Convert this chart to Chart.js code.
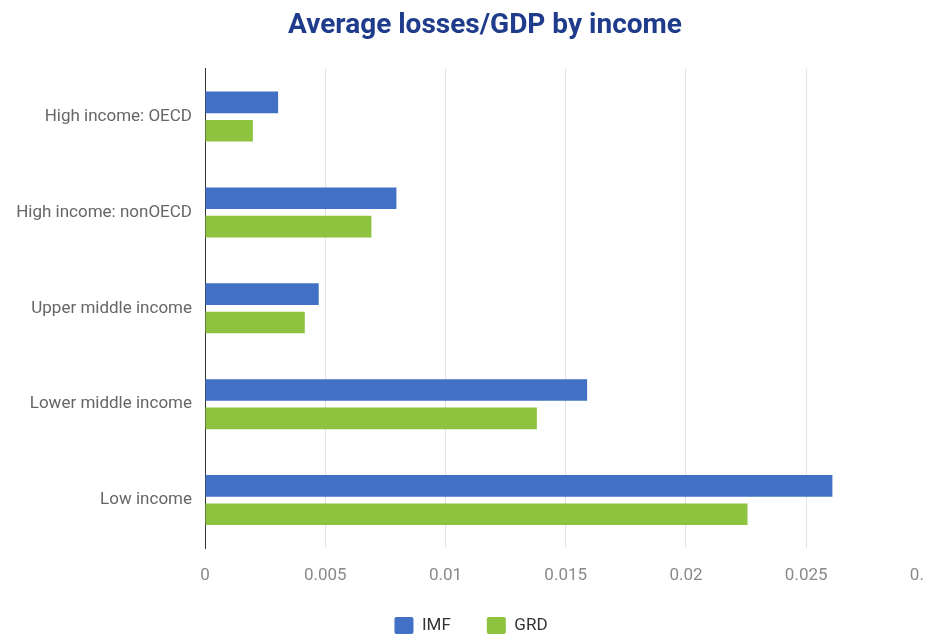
<!DOCTYPE html>
<html>
<head>
<meta charset="utf-8">
<script src="https://cdn.jsdelivr.net/npm/chart.js@4"></script>
<style>
  html, body { margin: 0; padding: 0; background: #fff; }
  #wrap { width: 925px; height: 637px; overflow: hidden; position: relative; }
  #box { width: 961px; height: 644px; position: absolute; left: 0; top: 0; }
</style>
</head>
<body>
<div id="wrap"><div id="box"><canvas id="c"></canvas></div></div>
<script>
const categories = ["High income: OECD", "High income: nonOECD", "Upper middle income", "Lower middle income", "Low income"];
const imfValues = [0.00304, 0.00796, 0.00473, 0.01589, 0.02609];
const grdValues = [0.00199, 0.00692, 0.00415, 0.01380, 0.02256];
const xTicks = [0, 0.005, 0.01, 0.015, 0.02, 0.025, 0.03];
const seriesNames = ["IMF", "GRD"];
const titleText = "Average losses/GDP by income";

const blockShift = {
  id: 'blockShift',
  afterLayout(chart) {
    const mid = chart.width / 2;
    const t = chart.titleBlock;
    if (t) { const d = 485 - mid; t.left += d; t.right += d; }
    const l = chart.legend;
    if (l) { const d = 471 - mid; l.left += d; l.right += d; }
  }
};

new Chart(document.getElementById('c'), {
  type: 'bar',
  data: {
    labels: categories,
    datasets: [
      { label: seriesNames[0], data: imfValues, backgroundColor: '#4270c5', categoryPercentage: 0.591, barPercentage: 0.763 },
      { label: seriesNames[1], data: grdValues, backgroundColor: '#8dc33f', categoryPercentage: 0.591, barPercentage: 0.763 }
    ]
  },
  options: {
    indexAxis: 'y',
    responsive: true,
    maintainAspectRatio: false,
    animation: false,
    layout: { padding: 0 },
    scales: {
      x: {
        type: 'linear',
        min: 0,
        max: 0.03,
        afterBuildTicks(scale) { scale.ticks = xTicks.map(v => ({ value: v })); },
        afterFit(scale) { scale.height = 33; },
        grid: { color: '#e3e3e3', drawTicks: false, lineWidth: 1 },
        border: { display: false },
        ticks: {
          padding: 18,
          color: '#8a8a8a',
          font: { family: 'Roboto', size: 17 },
          maxRotation: 0,
          callback: v => String(v)
        }
      },
      y: {
        afterFit(scale) { scale.width = 205; },
        grid: { display: false, drawTicks: false },
        border: { display: true, color: '#333333', width: 1 },
        ticks: {
          padding: 13,
          color: '#666666',
          font: { family: 'Roboto', size: 17 }
        }
      }
    },
    plugins: {
      title: {
        display: true,
        text: titleText,
        color: '#1f3c8c',
        font: { family: 'Roboto', size: 28, weight: 'bold' },
        padding: { top: 9, bottom: 26 }
      },
      legend: {
        position: 'bottom',
        labels: {
          boxWidth: 19,
          boxHeight: 17,
          padding: 36,
          useBorderRadius: true,
          borderRadius: 2,
          color: '#333333',
          font: { family: 'Roboto', size: 17 }
        }
      },
      tooltip: { enabled: false }
    }
  },
  plugins: [blockShift]
});
</script>
</body>
</html>
